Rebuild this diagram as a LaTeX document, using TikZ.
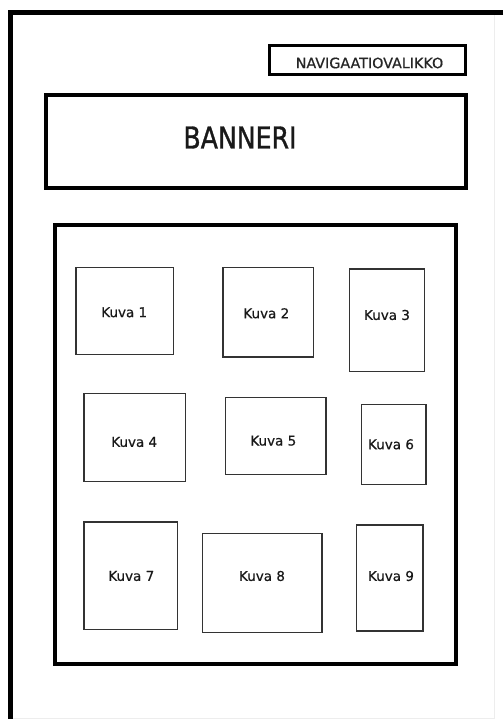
\documentclass[tikz,border=0pt]{standalone}
\usepackage{fontspec}
\setmainfont{DejaVu Sans}
\newfontfamily\heavyfont[FakeBold=1.2]{DejaVu Sans}
\newfontfamily\midfont[FakeBold=0.6]{DejaVu Sans}
\begin{document}
\begin{tikzpicture}[x=1pt,y=-1pt,
  frame/.style={draw=black,line width=5pt},
  navbox/.style={draw=black,line width=3pt,inner sep=0pt,minimum width=196pt,minimum height=29pt},
  bannerbox/.style={draw=black,line width=4pt,inner sep=0pt,minimum width=420pt,minimum height=93pt},
  areabox/.style={draw=black,line width=4pt,inner sep=0pt,minimum width=401pt,minimum height=439.5pt},
  kuvabox/.style={draw=black!80,line width=1.6pt,inner sep=0pt},
  kuvatext/.style={font=\midfont\fontsize{13.5}{15}\selectfont,text=black!90,inner sep=0pt},
  thin/.style={draw=black!7,line width=1pt}]
\useasboundingbox (0,0) rectangle (503,719);
\fill[white] (0,0) rectangle (503,719);
% outer page frame
\coordinate (tr) at (503,13);
\coordinate (tl) at (10.8,13);
\coordinate (bl) at (10.8,719);
\draw[frame] (tr) -- (tl) -- (bl);
\coordinate (rt) at (494,15.5);
\coordinate (rb) at (494,718);
\coordinate (bb) at (13.3,718);
\draw[thin] (rt) -- (rb) -- (bb);
% navigation
\node[navbox] (nav) at (367.5,60) {};
\node[inner sep=0pt,font=\midfont\fontsize{14.3}{16}\selectfont,text=black!85] (navt) at (369.5,63) {NAVIGAATIOVALIKKO};
% banner
\node[bannerbox] (banner) at (256,141.5) {};
\node[inner sep=0pt,font=\heavyfont\fontsize{30}{32}\selectfont,text=black!90] (bannert) at (240,137.5) {\scalebox{0.84}[1]{BANNERI}};
% content area
\node[areabox] (area) at (255.5,444.25) {};
% pictures
\node[kuvabox,minimum width=97.6pt,minimum height=87pt] (k1) at (124.5,310.8) {};
\node[kuvabox,minimum width=90.6pt,minimum height=89.4pt] (k2) at (268,312) {};
\node[kuvabox,minimum width=75pt,minimum height=102.3pt] (k3) at (386.8,320.2) {};
\node[kuvabox,minimum width=101.6pt,minimum height=88pt] (k4) at (134.5,437.3) {};
\node[kuvabox,minimum width=100.4pt,minimum height=77pt] (k5) at (275.5,435.8) {};
\node[kuvabox,minimum width=64.4pt,minimum height=80pt] (k6) at (393.5,444.3) {};
\node[kuvabox,minimum width=93.6pt,minimum height=107.7pt] (k7) at (130.5,575.8) {};
\node[kuvabox,minimum width=119.4pt,minimum height=99pt] (k8) at (262,582.8) {};
\node[kuvabox,minimum width=66.4pt,minimum height=106pt] (k9) at (389.5,577.7) {};
\node[kuvatext] (t1) at (124.2,312.3) {Kuva 1};
\node[kuvatext] (t2) at (266.3,313.3) {Kuva 2};
\node[kuvatext] (t3) at (387,315) {Kuva 3};
\node[kuvatext] (t4) at (134.2,442) {Kuva 4};
\node[kuvatext] (t5) at (273.3,440.7) {Kuva 5};
\node[kuvatext] (t6) at (391,444.3) {Kuva 6};
\node[kuvatext] (t7) at (131.3,576) {Kuva 7};
\node[kuvatext] (t8) at (262,576) {Kuva 8};
\node[kuvatext] (t9) at (391,576) {Kuva 9};
\end{tikzpicture}
\end{document}
